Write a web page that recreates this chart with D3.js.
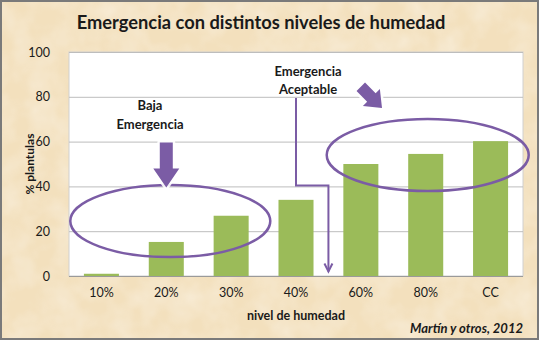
<!DOCTYPE html>
<html>
<head>
<meta charset="utf-8">
<script src="https://cdn.jsdelivr.net/npm/d3@7"></script>
<style>
  html, body { margin: 0; padding: 0; background: #fff; }
  svg { display: block; }
  text { font-family: Lato, "Open Sans", sans-serif; fill: #1a1a1a; }
</style>
</head>
<body>
<svg id="chart" width="539" height="340"></svg>
<script>
// Emergence percentage per soil humidity level
const categories = ["10%", "20%", "30%", "40%", "60%", "80%", "CC"];
const values = [1, 15.2, 26.9, 34, 50, 54.5, 60.2];
const yTicks = [0, 20, 40, 60, 80, 100];

const W = 539, H = 340;
const margin = { left: 69, right: 16, top: 52, bottom: 64 };
const svg = d3.select("#chart");

// parchment background with a faint mottled texture
const defs = svg.append("defs");
const f = defs.append("filter").attr("id", "parch").attr("x", 0).attr("y", 0).attr("width", 1).attr("height", 1);
f.append("feTurbulence").attr("type", "fractalNoise").attr("baseFrequency", 0.035).attr("numOctaves", 3).attr("seed", 7).attr("result", "n");
f.append("feColorMatrix").attr("in", "n").attr("type", "matrix")
  .attr("values", "0 0 0 0 1  0 0 0 0 1  0 0 0 0 1  0 0 0 -1.1 0.75").attr("result", "w");
f.append("feComposite").attr("in", "w").attr("in2", "SourceGraphic").attr("operator", "in");

svg.append("rect").attr("width", W).attr("height", H).attr("fill", "#f3e0bd");
svg.append("rect").attr("width", W).attr("height", H).attr("fill", "#f3e0bd").attr("filter", "url(#parch)").attr("opacity", 0.5);
svg.append("rect").attr("x", 1).attr("y", 1).attr("width", W - 2).attr("height", H - 2)
  .attr("fill", "none").attr("stroke", "#7a7a7a").attr("stroke-width", 2);

const x = d3.scaleBand().domain(categories).range([margin.left, W - margin.right]).paddingInner(0.46).paddingOuter(0.23);
const y = d3.scaleLinear().domain([0, 100]).range([H - margin.bottom, margin.top]);

// plot area
svg.append("rect")
  .attr("x", margin.left).attr("y", y(100))
  .attr("width", W - margin.right - margin.left).attr("height", y(0) - y(100))
  .attr("fill", "#ffffff").attr("stroke", "#d0d0d0");

// gridlines
svg.append("g").selectAll("line").data(yTicks.filter(d => d > 0)).join("line")
  .attr("x1", margin.left).attr("x2", W - margin.right)
  .attr("y1", d => y(d) + 0.5).attr("y2", d => y(d) + 0.5)
  .attr("stroke", "#bdbdbd").attr("stroke-width", 1);

// y axis
const yAxis = svg.append("g").attr("transform", `translate(${margin.left},0)`)
  .call(d3.axisLeft(y).tickValues(yTicks).tickSize(0).tickPadding(19));
yAxis.select(".domain").remove();
yAxis.selectAll("text").style("font-size", "12.5px").style("font-family", "Lato, sans-serif").attr("fill", "#222");

// baseline
svg.append("line").attr("x1", margin.left).attr("x2", W - margin.right)
  .attr("y1", y(0) + 0.5).attr("y2", y(0) + 0.5).attr("stroke", "#9a9a9a");

// bars
svg.append("g").selectAll("rect").data(values).join("rect")
  .attr("x", (d, i) => x(categories[i]))
  .attr("y", d => y(d))
  .attr("width", x.bandwidth())
  .attr("height", d => y(0) - y(d))
  .attr("fill", "#9bbb59");

// x axis
const xAxis = svg.append("g").attr("transform", `translate(0,${y(0)})`)
  .call(d3.axisBottom(x).tickSize(0).tickPadding(12));
xAxis.select(".domain").remove();
xAxis.selectAll("text").style("font-size", "12.5px").style("font-family", "Lato, sans-serif").attr("fill", "#222");

// titles
svg.append("text").attr("x", 261).attr("y", 29).attr("text-anchor", "middle")
  .style("font-size", "18.3px").style("font-weight", "bold").text("Emergencia con distintos niveles de humedad");
svg.append("text").attr("transform", `translate(34,${(y(0) + y(100)) / 2}) rotate(-90)`)
  .attr("text-anchor", "middle").style("font-size", "12px").style("font-weight", "bold").text("% plantulas");
svg.append("text").attr("x", (margin.left + W - margin.right) / 2).attr("y", 320).attr("text-anchor", "middle")
  .style("font-size", "12.5px").style("font-weight", "bold").text("nivel de humedad");
svg.append("text").attr("x", 523).attr("y", 333).attr("text-anchor", "end")
  .style("font-size", "13px").style("font-weight", "bold").style("font-style", "italic").text("Martín y otros, 2012");

// annotations
const purple = "#7b5ca5";
const band = x.bandwidth();
const cx = c => x(c) + band / 2;

// ellipses around the low and acceptable groups
svg.append("ellipse").attr("cx", (cx("10%") + cx("30%")) / 2 + 4).attr("cy", y(24.5))
  .attr("rx", 100).attr("ry", 36).attr("fill", "none").attr("stroke", purple).attr("stroke-width", 2.5);
svg.append("ellipse").attr("cx", cx("80%") + 2).attr("cy", y(54))
  .attr("rx", 101).attr("ry", 36).attr("fill", "none").attr("stroke", purple).attr("stroke-width", 2.5);

// block arrow helper (points along +y before rotation)
function blockArrow(tx, ty, angle, len, shaftW, headW, headL) {
  const p = [
    [-shaftW / 2, -len], [shaftW / 2, -len], [shaftW / 2, -headL], [headW / 2, -headL],
    [0, 0], [-headW / 2, -headL], [-shaftW / 2, -headL]
  ];
  const g = svg.append("g").attr("transform", `translate(${tx},${ty}) rotate(${angle})`);
  g.append("polygon").attr("points", p.join(" ")).attr("fill", "none")
    .attr("stroke", "#ffffff").attr("stroke-width", 5).attr("stroke-linejoin", "round").attr("opacity", 0.9);
  g.append("polygon").attr("points", p.join(" ")).attr("fill", purple);
}
blockArrow(cx("20%"), y(40) + 1, 0, 45, 13, 26, 19);
blockArrow(382, 108, -45, 30, 12, 24, 15);

const lab1 = svg.append("text").attr("text-anchor", "middle").style("font-size", "13px").style("font-weight", "bold");
lab1.append("tspan").attr("x", 150).attr("y", 110).text("Baja");
lab1.append("tspan").attr("x", 150).attr("y", 129).text("Emergencia");
const lab2 = svg.append("text").attr("text-anchor", "middle").style("font-size", "13px").style("font-weight", "bold");
lab2.append("tspan").attr("x", 308).attr("y", 76).text("Emergencia");
lab2.append("tspan").attr("x", 308).attr("y", 94).text("Aceptable");

// thin connector pointing to the gap between 40% and 60%
const gapX = (x("40%") + band + x("60%")) / 2;
svg.append("path")
  .attr("d", `M296,98 V${y(40) - 1} H${gapX} V${y(2)}`)
  .attr("fill", "none").attr("stroke", purple).attr("stroke-width", 2);
svg.append("path")
  .attr("d", `M${gapX - 4},${y(2) - 8} L${gapX},${y(2)} L${gapX + 4},${y(2) - 8}`)
  .attr("fill", "none").attr("stroke", purple).attr("stroke-width", 2);
</script>
</body>
</html>
